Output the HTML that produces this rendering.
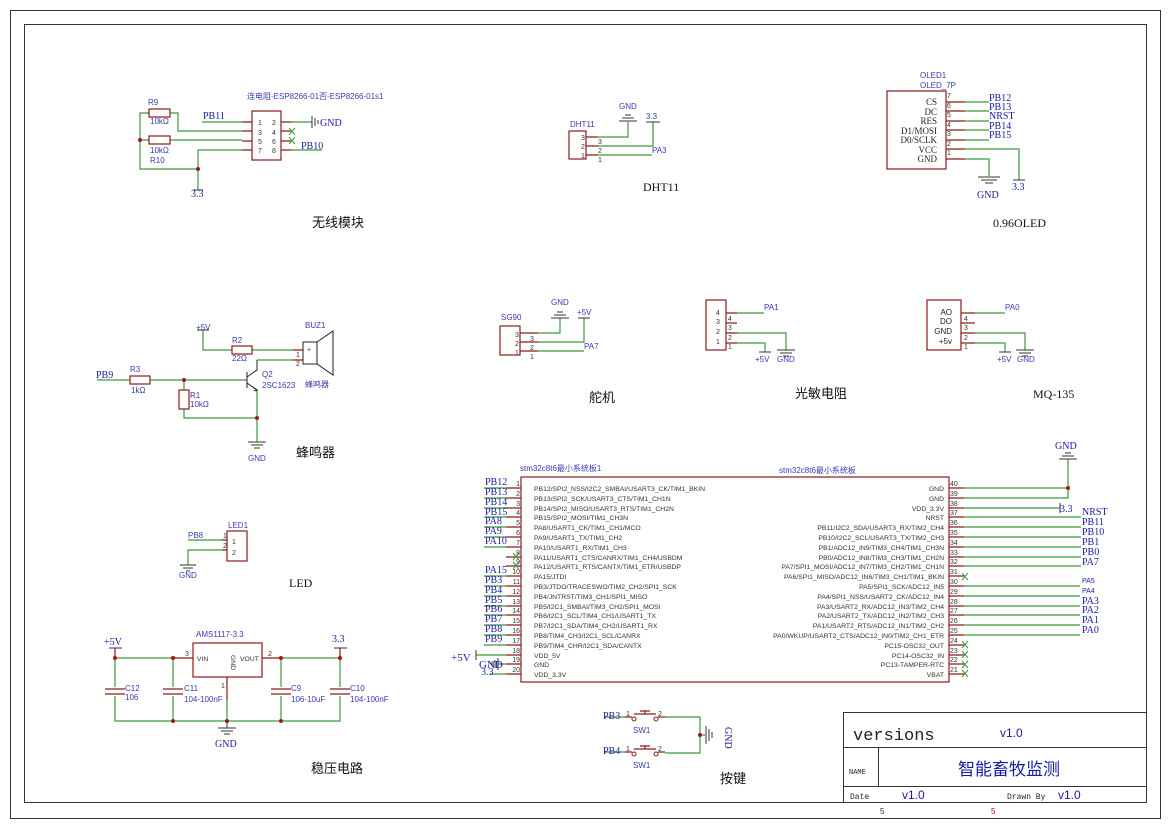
<!DOCTYPE html>
<html><head><meta charset="utf-8"><style>
html,body{margin:0;padding:0;background:#fff}
svg{display:block}
.w{stroke:#3a9a3a;stroke-width:1.2;fill:none}
.p{stroke:#8b1a1a;stroke-width:1.2;fill:none}
.b{stroke:#8b1a1a;stroke-width:1.2;fill:none}
.k{stroke:#222;stroke-width:1;fill:none}
.n{font-family:"Liberation Serif",serif;font-size:10px;fill:#1a1aa0}
.s{font-family:"Liberation Sans",sans-serif;font-size:8px;fill:#3a3ab0}
.t{font-family:"Liberation Sans",sans-serif;font-size:6.8px;fill:#333}
.pn{font-family:"Liberation Sans",sans-serif;font-size:7px;fill:#333}
.cap{font-family:"Liberation Sans","Noto Sans CJK SC",sans-serif;font-size:13px;fill:#111}
.capS{font-family:"Liberation Serif",serif;font-size:12px;fill:#111}
.g{stroke:#333;stroke-width:1;fill:none}
.d{fill:#b01010}
.x{stroke:#3a9a3a;stroke-width:1}
</style></head><body>
<svg width="1170" height="825" viewBox="0 0 1170 825" xmlns="http://www.w3.org/2000/svg">
<rect x="10.5" y="10.5" width="1150" height="808" fill="none" stroke="#333"/>
<rect x="24.5" y="24.5" width="1122" height="778" fill="none" stroke="#333"/>

<!-- ESP8266 -->
<text class="s" x="247" y="99" font-size="7">连电阻-ESP8266-01否-ESP8266-01s1</text>
<rect class="b" x="252" y="111" width="29" height="49"/>
<text class="pn" x="258" y="125">1</text><text class="pn" x="272" y="125">2</text>
<text class="pn" x="258" y="135">3</text><text class="pn" x="272" y="135">4</text>
<text class="pn" x="258" y="144">5</text><text class="pn" x="272" y="144">6</text>
<text class="pn" x="258" y="153">7</text><text class="pn" x="272" y="153">8</text>
<path class="p" d="M242 122H252M242 131H252M242 141H252M242 150H252M281 122H291M281 131H291M281 141H291M281 150H291"/>
<path class="w" d="M202 122H242M170 113H178V131H242M170 140H242M149 113H140V169H198M149 140H140M198 169V150H242M198 169V190M291 122H312M291 150H322"/>
<rect class="p" x="149" y="109" width="21" height="8"/>
<rect class="p" x="149" y="136" width="21" height="8"/>
<circle class="d" cx="140" cy="140" r="2"/><circle class="d" cx="198" cy="169" r="2"/>
<path class="g" d="M312 116V128M315 118V126M318 120V124M312 122H312"/>
<path class="x" d="M289 128L295 135M295 128L289 135M289 137L295 144M295 137L289 144"/>
<path class="g" d="M193 190H203"/>
<text class="s" x="148" y="105" font-size="9" fill="#333">R9</text><text class="s" x="150" y="124">10kΩ</text>
<text class="s" x="150" y="153">10kΩ</text><text class="s" x="150" y="163" font-size="9">R10</text>
<text class="n" x="203" y="119">PB11</text><text class="n" x="320" y="126" font-size="11">GND</text>
<text class="n" x="301" y="149">PB10</text><text class="n" x="191" y="197" font-size="9">3.3</text>
<text class="cap" x="312" y="227">无线模块</text>

<!-- DHT11 -->
<text class="s" x="570" y="127">DHT11</text>
<rect class="b" x="569" y="131" width="17" height="28"/>
<path class="p" d="M586 137H598M586 146H598M586 155H598"/>
<text class="pn" x="581" y="140">3</text><text class="pn" x="581" y="149">2</text><text class="pn" x="581" y="158">1</text>
<text class="pn" x="598" y="144">3</text><text class="pn" x="598" y="153">2</text><text class="pn" x="598" y="162">1</text>
<path class="w" d="M598 137H628V122M598 146H653V122M598 155H652"/>
<path class="g" d="M619 121H637M622 118H634M625 115H631M646 122H660"/>
<text class="s" x="619" y="109">GND</text><text class="s" x="646" y="119">3.3</text><text class="s" x="652" y="153">PA3</text>
<text class="capS" x="643" y="191">DHT11</text>

<!-- OLED -->
<text class="s" x="920" y="78">OLED1</text><text class="s" x="920" y="88">OLED_7P</text>
<rect class="b" x="887" y="91" width="59" height="78"/>
<g font-family="Liberation Serif,serif" font-size="9" fill="#222" text-anchor="end">
<text x="937" y="105">CS</text><text x="937" y="115">DC</text><text x="937" y="124">RES</text><text x="937" y="134">D1/MOSI</text><text x="937" y="143">D0/SCLK</text><text x="937" y="153">VCC</text><text x="937" y="162">GND</text></g>
<g class="pn" font-family="Liberation Serif,serif"><text x="947" y="98">7</text><text x="947" y="108">6</text><text x="947" y="117">5</text><text x="947" y="127">4</text><text x="947" y="136">3</text><text x="947" y="146">2</text><text x="947" y="155">1</text></g>
<path class="p" d="M946 102H965M946 111H965M946 121H965M946 130H965M946 140H965M946 149H965M946 159H965"/>
<path class="w" d="M965 102H989M965 111H989M965 121H989M965 130H989M965 140H989M965 149H1019V180M965 159H989V176"/>
<path class="g" d="M978 177H1000M981 180H997M985 183H993M1013 180H1025"/>
<g class="n" font-family="Liberation Sans,sans-serif" font-size="9.5"><text x="989" y="101">PB12</text><text x="989" y="110">PB13</text><text x="989" y="119">NRST</text><text x="989" y="129">PB14</text><text x="989" y="138">PB15</text></g>
<text class="n" x="977" y="198">GND</text><text class="n" x="1012" y="190">3.3</text>
<text class="capS" x="993" y="227">0.96OLED</text>

<!-- Buzzer -->
<text class="s" x="196" y="330">+5V</text>
<path class="g" d="M197 330H209"/>
<path class="w" d="M203 330V350H232M252 350H293M257 360H293M97 380H130M150 380H247M184 380V390M184 409V418H257M257 392V442"/>
<rect class="p" x="232" y="346" width="20" height="8"/>
<rect class="p" x="130" y="376" width="20" height="8"/>
<rect class="p" x="179" y="390" width="10" height="19"/>
<path class="p" d="M293 350H303M293 360H303"/>
<rect class="k" x="303" y="342" width="14" height="22" stroke="#8b1a1a"/>
<path class="k" stroke="#8b1a1a" d="M317 342L333 331V375L317 364"/>
<text class="pn" x="307" y="352" font-size="9">+</text>
<text class="pn" x="296" y="357">1</text><text class="pn" x="296" y="366">2</text>
<path class="k" d="M247 372V388M247 377L257 370V360M247 383L257 390V392"/>
<path class="k" d="M253 387L257 390L254 391" fill="#333"/>
<circle class="d" cx="184" cy="380" r="2"/><circle class="d" cx="257" cy="418" r="2"/>
<path class="g" d="M248 442H266M251 445H263M254 448H260"/>
<text class="s" x="232" y="343">R2</text><text class="s" x="232" y="361">22Ω</text>
<text class="s" x="130" y="372">R3</text><text class="s" x="131" y="393">1kΩ</text>
<text class="s" x="190" y="398">R1</text><text class="s" x="190" y="407">10kΩ</text>
<text class="s" x="262" y="377">Q2</text><text class="s" x="262" y="388">2SC1623</text>
<text class="s" x="305" y="328">BUZ1</text><text class="s" x="305" y="387" font-size="5">蜂鸣器</text>
<text class="n" x="96" y="378" font-family="Liberation Sans,sans-serif" font-size="9">PB9</text>
<text class="s" x="248" y="461">GND</text>
<text class="cap" x="296" y="457">蜂鸣器</text>

<!-- LED -->
<text class="s" x="228" y="528">LED1</text>
<rect class="b" x="227" y="531" width="20" height="30"/>
<path class="p" d="M222 540H227M222 550H227"/>
<text class="pn" x="223" y="538">1</text><text class="pn" x="232" y="544">1</text><text class="pn" x="223" y="548">2</text><text class="pn" x="232" y="555">2</text>
<path class="w" d="M188 540H222M222 550H188V565"/>
<path class="g" d="M180 565H196M183 568H193M186 571H190"/>
<text class="s" x="188" y="538">PB8</text><text class="s" x="179" y="578">GND</text>
<text class="capS" x="289" y="587">LED</text>

<!-- SG90 -->
<text class="s" x="501" y="320">SG90</text>
<rect class="b" x="500" y="326" width="20" height="29"/>
<path class="p" d="M520 333H538M520 342H538M520 351H538"/>
<text class="pn" x="515" y="337">3</text><text class="pn" x="515" y="346">2</text><text class="pn" x="515" y="355">1</text>
<text class="pn" x="530" y="341">3</text><text class="pn" x="530" y="350">2</text><text class="pn" x="530" y="359">1</text>
<path class="w" d="M538 333H560V318M538 342H584V318M538 351H584"/>
<path class="g" d="M551 318H569M554 315H566M557 312H563M578 318H590"/>
<text class="s" x="551" y="305">GND</text><text class="s" x="577" y="315">+5V</text><text class="s" x="584" y="349">PA7</text>
<text class="cap" x="589" y="402">舵机</text>

<!-- Light sensor -->
<rect class="b" x="706" y="300" width="20" height="50"/>
<g class="pn" font-size="8"><text x="716" y="315">4</text><text x="716" y="324">3</text><text x="716" y="334">2</text><text x="716" y="344">1</text>
<text x="728" y="321">4</text><text x="728" y="330">3</text><text x="728" y="340">2</text><text x="728" y="349">1</text></g>
<path class="p" d="M726 313H737M726 323H737M726 333H737M726 343H737"/>
<path class="w" d="M737 313H764M737 333H786V350M737 343H765V352"/>
<path class="g" d="M759 352H771M777 350H795M780 353H792M783 356H789"/>
<text class="s" x="764" y="310">PA1</text><text class="s" x="755" y="362">+5V</text><text class="s" x="777" y="362">GND</text>
<text class="cap" x="795" y="398">光敏电阻</text>

<!-- MQ-135 -->
<rect class="b" x="927" y="300" width="34" height="50"/>
<g font-family="Liberation Sans,sans-serif" font-size="8" fill="#222" text-anchor="end"><text x="952" y="315">AO</text><text x="952" y="324">DO</text><text x="952" y="334">GND</text><text x="952" y="344">+5v</text></g>
<g class="pn" font-size="8"><text x="964" y="321">4</text><text x="964" y="330">3</text><text x="964" y="340">2</text><text x="964" y="349">1</text></g>
<path class="p" d="M961 313H975M961 323H975M961 333H975M961 343H975"/>
<path class="w" d="M975 313H1005M975 333H1025V350M975 343H1005V352"/>
<path class="g" d="M999 352H1011M1016 350H1034M1019 353H1031M1022 356H1028"/>
<text class="s" x="1005" y="310">PA0</text><text class="s" x="997" y="362">+5V</text><text class="s" x="1017" y="362">GND</text>
<text class="capS" x="1033" y="398">MQ-135</text>

<!-- Power -->
<text class="n" x="104" y="645" font-size="11">+5V</text><text class="n" x="332" y="642" font-size="11">3.3</text>
<path class="g" d="M109 648H122M334 648H347"/>
<text class="s" x="196" y="637">AMS1117-3.3</text>
<rect class="b" x="193" y="643" width="69" height="34"/>
<text class="t" x="197" y="661">VIN</text><text class="t" x="240" y="661">VOUT</text>
<text class="t" x="0" y="0" transform="translate(231,655) rotate(90)">GND</text>
<path class="p" d="M115 648V658M340 648V658M175 658H193M262 658H280M227 677V700"/>
<text class="pn" x="185" y="656">3</text><text class="pn" x="268" y="656">2</text><text class="pn" x="221" y="688">1</text>
<path class="w" d="M115 658H175M280 658H340M115 658V687M115 696V721H340V696M173 658V687M173 696V721M281 658V687M281 696V721M340 658V687M227 700V721"/>
<path class="p" d="M105 689H125M105 694H125M163 689H183M163 694H183M271 689H291M271 694H291M330 689H350M330 694H350"/>
<g class="d"><circle cx="115" cy="658" r="2"/><circle cx="173" cy="658" r="2"/><circle cx="281" cy="658" r="2"/><circle cx="340" cy="658" r="2"/><circle cx="173" cy="721" r="2"/><circle cx="227" cy="721" r="2"/><circle cx="281" cy="721" r="2"/></g>
<path class="g" d="M227 721V728M218 728H236M221 731H233M224 734H230"/>
<text class="n" x="215" y="747" font-size="11">GND</text>
<text class="s" x="125" y="691">C12</text><text class="s" x="125" y="700">106</text>
<text class="s" x="184" y="691">C11</text><text class="s" x="184" y="702">104-100nF</text>
<text class="s" x="291" y="691">C9</text><text class="s" x="291" y="702">106-10uF</text>
<text class="s" x="350" y="691">C10</text><text class="s" x="350" y="702">104-100nF</text>
<text class="cap" x="311" y="773">稳压电路</text>

<!-- STM32 -->
<text class="s" x="520" y="471" font-size="7">stm32c8t6最小系统板1</text>
<text class="s" x="779" y="473" font-size="7">stm32c8t6最小系统板</text>
<rect class="b" x="521" y="477" width="428" height="205"/>
<g class="t">
<text x="534" y="491">PB12/SPI2_NSS/I2C2_SMBAI/USART3_CK/TIM1_BKIN</text>
<text x="534" y="501">PB13/SPI2_SCK/USART3_CTS/TIM1_CH1N</text>
<text x="534" y="511">PB14/SPI2_MISO/USART3_RTS/TIM1_CH2N</text>
<text x="534" y="520">PB15/SPI2_MOSI/TIM1_CH3N</text>
<text x="534" y="530">PA8/USART1_CK/TIM1_CH1/MCO</text>
<text x="534" y="540">PA9/USART1_TX/TIM1_CH2</text>
<text x="534" y="550">PA10/USART1_RX/TIM1_CH3</text>
<text x="534" y="560">PA11/USART1_CTS/CANRX/TIM1_CH4/USBDM</text>
<text x="534" y="569">PA12/USART1_RTS/CANTX/TIM1_ETR/USBDP</text>
<text x="534" y="579">PA15/JTDI</text>
<text x="534" y="589">PB3/JTDO/TRACESWO/TIM2_CH2/SPI1_SCK</text>
<text x="534" y="599">PB4/JNTRST/TIM3_CH1/SPI1_MISO</text>
<text x="534" y="609">PB5/I2C1_SMBAI/TIM3_CH2/SPI1_MOSI</text>
<text x="534" y="618">PB6/I2C1_SCL/TIM4_CH1/USART1_TX</text>
<text x="534" y="628">PB7/I2C1_SDA/TIM4_CH2/USART1_RX</text>
<text x="534" y="638">PB8/TIM4_CH3/I2C1_SCL/CANRX</text>
<text x="534" y="648">PB9/TIM4_CHR/I2C1_SDA/CANTX</text>
<text x="534" y="658">VDD_5V</text>
<text x="534" y="667">GND</text>
<text x="534" y="677">VDD_3.3V</text>
</g>
<g class="t" text-anchor="end">
<text x="944" y="491">GND</text><text x="944" y="501">GND</text><text x="944" y="511">VDD_3.3V</text><text x="944" y="520">NRST</text>
<text x="944" y="530">PB11/I2C2_SDA/USART3_RX/TIM2_CH4</text>
<text x="944" y="540">PB10/I2C2_SCL/USART3_TX/TIM2_CH3</text>
<text x="944" y="550">PB1/ADC12_IN9/TIM3_CH4/TIM1_CH3N</text>
<text x="944" y="560">PB0/ADC12_IN8/TIM3_CH3/TIM1_CH2N</text>
<text x="944" y="569">PA7/SPI1_MOSI/ADC12_IN7/TIM3_CH2/TIM1_CH1N</text>
<text x="944" y="579">PA6/SPI1_MISO/ADC12_IN6/TIM3_CH1/TIM1_BKIN</text>
<text x="944" y="589">PA5/SPI1_SCK/ADC12_IN5</text>
<text x="944" y="599">PA4/SPI1_NSS/USART2_CK/ADC12_IN4</text>
<text x="944" y="609">PA3/USART2_RX/ADC12_IN3/TIM2_CH4</text>
<text x="944" y="618">PA2/USART2_TX/ADC12_IN2/TIM2_CH3</text>
<text x="944" y="628">PA1/USART2_RTS/ADC12_IN1/TIM2_CH2</text>
<text x="944" y="638">PA0/WKUP/USART2_CTS/ADC12_IN0/TIM2_CH1_ETR</text>
<text x="944" y="648">PC15-OSC32_OUT</text><text x="944" y="658">PC14-OSC32_IN</text><text x="944" y="667">PC13-TAMPER-RTC</text><text x="944" y="677">VBAT</text>
</g>
<g class="pn" font-size="6.5" text-anchor="end">
<text x="520" y="486">1</text><text x="520" y="496">2</text><text x="520" y="506">3</text><text x="520" y="515">4</text><text x="520" y="525">5</text><text x="520" y="535">6</text><text x="520" y="545">7</text><text x="520" y="555">8</text><text x="520" y="564">9</text><text x="520" y="574">10</text><text x="520" y="584">11</text><text x="520" y="594">12</text><text x="520" y="604">13</text><text x="520" y="613">14</text><text x="520" y="623">15</text><text x="520" y="633">16</text><text x="520" y="643">17</text><text x="520" y="653">18</text><text x="520" y="662">19</text><text x="520" y="672">20</text>
</g>
<g class="pn" font-size="6.5">
<text x="950" y="486">40</text><text x="950" y="496">39</text><text x="950" y="506">38</text><text x="950" y="515">37</text><text x="950" y="525">36</text><text x="950" y="535">35</text><text x="950" y="545">34</text><text x="950" y="555">33</text><text x="950" y="564">32</text><text x="950" y="574">31</text><text x="950" y="584">30</text><text x="950" y="594">29</text><text x="950" y="604">28</text><text x="950" y="613">27</text><text x="950" y="623">26</text><text x="950" y="633">25</text><text x="950" y="643">24</text><text x="950" y="653">23</text><text x="950" y="662">22</text><text x="950" y="672">21</text>
</g>
<path class="p" d="M506 488H521M506 498H521M506 508H521M506 517H521M506 527H521M506 537H521M506 547H521M506 557H521M506 566H521M506 576H521M506 586H521M506 596H521M506 606H521M506 615H521M506 625H521M506 635H521M506 645H521M506 655H521M506 664H521M506 674H521"/>
<path class="p" d="M949 488H964M949 498H964M949 508H964M949 517H964M949 527H964M949 537H964M949 547H964M949 557H964M949 566H964M949 576H964M949 586H964M949 596H964M949 606H964M949 615H964M949 625H964M949 635H964M949 645H964M949 655H964M949 664H964M949 674H964"/>
<path class="w" d="M484 488H506M484 498H506M484 508H506M484 517H506M484 527H506M484 537H506M484 547H506M484 576H506M484 586H506M484 596H506M484 606H506M484 615H506M484 625H506M484 635H506M484 645H506M476 655H506M506 664H498M506 674H490"/>
<path class="g" d="M476 650V660M498 658V670M495 660V668M492 662V666"/>
<path class="x" d="M513 553L519 560M519 553L513 560M513 562L519 569M519 562L513 569"/>
<g class="n" font-size="10">
<text x="485" y="485">PB12</text><text x="485" y="495">PB13</text><text x="485" y="505">PB14</text><text x="485" y="515">PB15</text><text x="485" y="524">PA8</text><text x="485" y="534">PA9</text><text x="485" y="544">PA10</text>
<text x="485" y="573">PA15</text><text x="485" y="583">PB3</text><text x="485" y="593">PB4</text><text x="485" y="603">PB5</text><text x="485" y="612">PB6</text><text x="485" y="622">PB7</text><text x="485" y="632">PB8</text><text x="485" y="642">PB9</text>
<text x="451" y="661" font-size="11">+5V</text><text x="479" y="668" font-size="11">GND</text><text x="481" y="675">3.3</text>
</g>
<path class="w" d="M964 488H1068V459M964 498H1068V488M964 508H1060M964 517H1081M964 527H1081M964 537H1081M964 547H1081M964 557H1081M964 566H1081M964 586H1080M964 596H1080M964 606H1080M964 615H1080M964 625H1080M964 635H1080"/>
<circle class="d" cx="1068" cy="488" r="2"/>
<path class="g" d="M1059 459H1077M1062 456H1074M1065 453H1071M1060 503V513"/>
<path class="x" d="M962 573L968 580M968 573L962 580M962 641L968 648M968 641L962 648M962 651L968 658M968 651L962 658M962 661L968 668M968 661L962 668M962 670L968 677M968 670L962 677"/>
<text class="n" x="1055" y="449" font-size="11">GND</text>
<text class="n" x="1060" y="512">3.3</text>
<g class="n" font-size="10">
<text x="1082" y="515">NRST</text><text x="1082" y="525">PB11</text><text x="1082" y="535">PB10</text><text x="1082" y="545">PB1</text><text x="1082" y="555">PB0</text><text x="1082" y="565">PA7</text>
<text x="1082" y="583" font-size="7" font-family="Liberation Sans,sans-serif">PA5</text><text x="1082" y="593" font-size="7" font-family="Liberation Sans,sans-serif">PA4</text>
<text x="1082" y="604">PA3</text><text x="1082" y="613">PA2</text><text x="1082" y="623">PA1</text><text x="1082" y="633">PA0</text>
</g>

<!-- Buttons -->
<path class="w" d="M604 717H625M665 717H700V753H665M604 752H625M700 735H705"/>
<path class="p" d="M625 717H632M658 717H665M625 752H632M658 752H665"/>
<circle cx="634" cy="719" r="2" fill="none" stroke="#8b1a1a"/><circle cx="656" cy="719" r="2" fill="none" stroke="#8b1a1a"/>
<circle cx="634" cy="754" r="2" fill="none" stroke="#8b1a1a"/><circle cx="656" cy="754" r="2" fill="none" stroke="#8b1a1a"/>
<path class="p" d="M634 714H656M645 714V711M640 711H650M634 749H656M645 749V746M640 746H650"/>
<circle class="d" cx="700" cy="735" r="2"/>
<path class="g" d="M706 726V744M709 729V741M712 732V738"/>
<text class="pn" x="626" y="716">1</text><text class="pn" x="658" y="716">2</text><text class="pn" x="626" y="751">1</text><text class="pn" x="658" y="751">2</text>
<text class="s" x="633" y="733">SW1</text><text class="s" x="633" y="768">SW1</text>
<text class="n" x="603" y="719">PB3</text><text class="n" x="603" y="754">PB4</text>
<text class="n" x="0" y="0" font-size="9" transform="translate(725,727) rotate(90)">GND</text>
<text class="cap" x="720" y="783">按键</text>

<!-- Title block -->
<rect x="843.5" y="712.5" width="303" height="90" fill="none" stroke="#333"/>
<path d="M843 747.5H1146M843 786.5H1146M878.5 747V786" stroke="#333" fill="none"/>
<text x="853" y="740" font-family="Liberation Mono,monospace" font-size="17" fill="#222">versions</text>
<text x="1000" y="737" font-family="Liberation Sans,sans-serif" font-size="12" fill="#1a1aa0">v1.0</text>
<text x="849" y="774" font-family="Liberation Mono,monospace" font-size="7" fill="#222">NAME</text>
<text x="958" y="775" font-family="Liberation Sans,'Noto Sans CJK SC',sans-serif" font-size="17" fill="#1a1aa0">智能畜牧监测</text>
<text x="850" y="799" font-family="Liberation Mono,monospace" font-size="8" fill="#222">Date</text>
<text x="902" y="799" font-family="Liberation Sans,sans-serif" font-size="12" fill="#1a1aa0">v1.0</text>
<text x="1007" y="799" font-family="Liberation Mono,monospace" font-size="8" fill="#222">Drawn By</text>
<text x="1058" y="799" font-family="Liberation Sans,sans-serif" font-size="12" fill="#1a1aa0">v1.0</text>
<text x="880" y="814" font-family="Liberation Sans,sans-serif" font-size="8" fill="#333">5</text>
<text x="991" y="814" font-family="Liberation Sans,sans-serif" font-size="8" fill="#a01010">5</text>
</svg>
</body></html>
